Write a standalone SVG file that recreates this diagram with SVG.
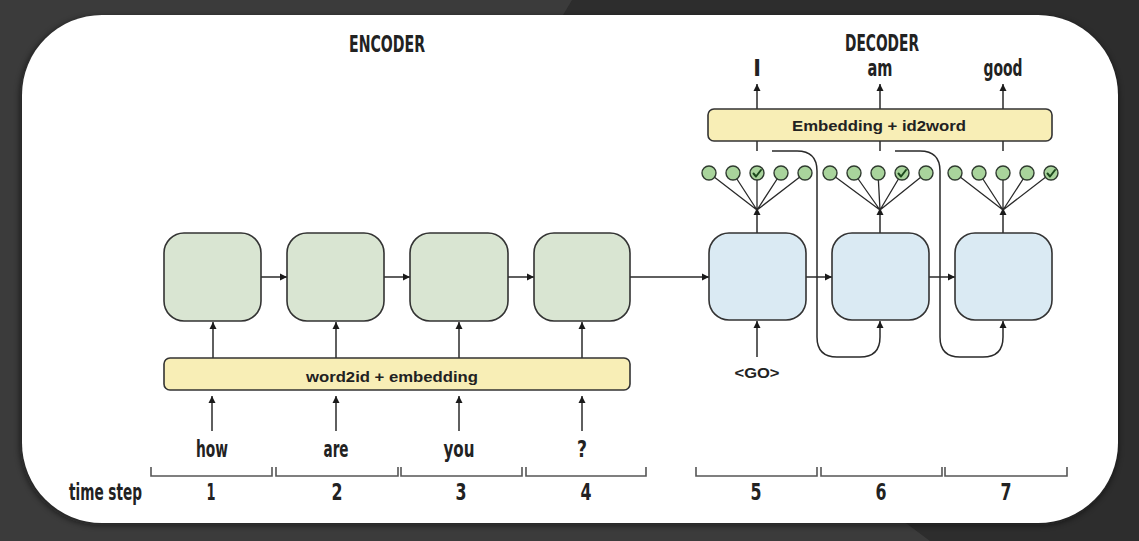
<svg xmlns="http://www.w3.org/2000/svg" width="1139" height="541" viewBox="0 0 1139 541">
<style>
.enc{fill:#d9e5d2;stroke:#333;stroke-width:1.6}
.dec{fill:#daeaf3;stroke:#333;stroke-width:1.6}
.bar{fill:#f8eeb6;stroke:#333;stroke-width:1.6}
.ln{fill:none;stroke:#2a2a2a;stroke-width:1.5}
.fan{fill:none;stroke:#2a2a2a;stroke-width:1.3}
.dot{fill:#a9d49c;stroke:#2f3a2f;stroke-width:1.4}
.chk{fill:none;stroke:#1d4a1d;stroke-width:2;stroke-linecap:round;stroke-linejoin:round}
.brk{fill:none;stroke:#555;stroke-width:1.6}
.cond{font-family:"DejaVu Sans Condensed","Liberation Sans Narrow",sans-serif;font-weight:bold;font-size:23px;fill:#222;text-anchor:middle}
.bold{font-family:"Liberation Sans",Arial,sans-serif;font-weight:bold;font-size:15px;fill:#222;text-anchor:middle}
</style>
<defs>
<marker id="ah" markerUnits="userSpaceOnUse" markerWidth="8" markerHeight="8" refX="7" refY="4" orient="auto">
<path d="M0,0.5 L7,4 L0,7.5 z" fill="#1a1a1a"/>
</marker>
<filter id="sh" x="-5%" y="-5%" width="110%" height="115%">
<feGaussianBlur stdDeviation="3"/>
</filter>
</defs>
<g id="background">
<rect width="1139" height="541" fill="#3b3b3b"/>
<polygon points="572,0 1139,0 1139,541 930,541 895,515 560,20" fill="#2d2d2d"/>
<rect x="20" y="17" width="1098" height="508" rx="80" fill="#111" opacity="0.6" filter="url(#sh)"/>
<rect x="22" y="15" width="1096" height="508" rx="80" fill="#ffffff"/>
</g>
<g id="titles">
<text class="cond" x="387" y="52" font-size="21" textLength="76" lengthAdjust="spacingAndGlyphs">ENCODER</text>
<text class="cond" x="882" y="51" font-size="20" textLength="74" lengthAdjust="spacingAndGlyphs">DECODER</text>
</g>
<g id="connectors">
<line class="ln" x1="212" y1="431" x2="212" y2="396" marker-end="url(#ah)"/>
<line class="ln" x1="336" y1="431" x2="336" y2="396" marker-end="url(#ah)"/>
<line class="ln" x1="459" y1="431" x2="459" y2="396" marker-end="url(#ah)"/>
<line class="ln" x1="582" y1="431" x2="582" y2="396" marker-end="url(#ah)"/>
<line class="ln" x1="213" y1="358" x2="213" y2="322" marker-end="url(#ah)"/>
<line class="ln" x1="336" y1="358" x2="336" y2="322" marker-end="url(#ah)"/>
<line class="ln" x1="459" y1="358" x2="459" y2="322" marker-end="url(#ah)"/>
<line class="ln" x1="582" y1="358" x2="582" y2="322" marker-end="url(#ah)"/>
<line class="ln" x1="261" y1="277" x2="287" y2="277" marker-end="url(#ah)"/>
<line class="ln" x1="384" y1="277" x2="410" y2="277" marker-end="url(#ah)"/>
<line class="ln" x1="508" y1="277" x2="534" y2="277" marker-end="url(#ah)"/>
<line class="ln" x1="630" y1="277" x2="709" y2="277" marker-end="url(#ah)"/>
<line class="ln" x1="806" y1="277" x2="832" y2="277" marker-end="url(#ah)"/>
<line class="ln" x1="929" y1="277" x2="955" y2="277" marker-end="url(#ah)"/>
<line class="ln" x1="757" y1="357" x2="757" y2="321" marker-end="url(#ah)"/>
<path class="ln" d="M772,151 H797 Q817,151 817,171 V337 Q817,357 837,357 H860 Q880,357 880,337 V321" marker-end="url(#ah)"/>
<path class="ln" d="M895,151 H920 Q940,151 940,171 V337 Q940,357 960,357 H983 Q1003,357 1003,337 V321" marker-end="url(#ah)"/>
<line class="ln" x1="757" y1="233" x2="757" y2="208" marker-end="url(#ah)"/>
<line class="ln" x1="880" y1="233" x2="880" y2="208" marker-end="url(#ah)"/>
<line class="ln" x1="1003" y1="233" x2="1003" y2="208" marker-end="url(#ah)"/>
<line class="ln" x1="757" y1="141" x2="757" y2="151"/>
<line class="ln" x1="880" y1="141" x2="880" y2="151"/>
<line class="ln" x1="1003" y1="141" x2="1003" y2="151"/>
<line class="ln" x1="757" y1="109" x2="757" y2="84" marker-end="url(#ah)"/>
<line class="ln" x1="880" y1="109" x2="880" y2="84" marker-end="url(#ah)"/>
<line class="ln" x1="1003" y1="109" x2="1003" y2="84" marker-end="url(#ah)"/>
</g>
<g id="fan1">
<path class="fan" d="M757,210 L709,173 M757,210 L733,173 M757,210 L757,173 M757,210 L781,173 M757,210 L805,173"/>
<circle class="dot" cx="709" cy="173" r="7"/>
<circle class="dot" cx="733" cy="173" r="7"/>
<circle class="dot" cx="757" cy="173" r="7"/>
<circle class="dot" cx="781" cy="173" r="7"/>
<circle class="dot" cx="805" cy="173" r="7"/>
<path class="chk" d="M753.5,173.5 L756,176.5 L761,170"/>
</g>
<g id="fan2">
<path class="fan" d="M880,210 L830,173 M880,210 L854,173 M880,210 L878,173 M880,210 L902,173 M880,210 L926,173"/>
<circle class="dot" cx="830" cy="173" r="7"/>
<circle class="dot" cx="854" cy="173" r="7"/>
<circle class="dot" cx="878" cy="173" r="7"/>
<circle class="dot" cx="902" cy="173" r="7"/>
<circle class="dot" cx="926" cy="173" r="7"/>
<path class="chk" d="M898.5,173.5 L901,176.5 L906,170"/>
</g>
<g id="fan3">
<path class="fan" d="M1003,210 L955,173 M1003,210 L979,173 M1003,210 L1003,173 M1003,210 L1027,173 M1003,210 L1051,173"/>
<circle class="dot" cx="955" cy="173" r="7"/>
<circle class="dot" cx="979" cy="173" r="7"/>
<circle class="dot" cx="1003" cy="173" r="7"/>
<circle class="dot" cx="1027" cy="173" r="7"/>
<circle class="dot" cx="1051" cy="173" r="7"/>
<path class="chk" d="M1047.5,173.5 L1050,176.5 L1055,170"/>
</g>
<g id="enc1"><rect class="enc" x="164" y="233" width="97" height="88" rx="20"/></g>
<g id="enc2"><rect class="enc" x="287" y="233" width="97" height="88" rx="20"/></g>
<g id="enc3"><rect class="enc" x="410" y="233" width="98" height="88" rx="20"/></g>
<g id="enc4"><rect class="enc" x="534" y="233" width="96" height="88" rx="20"/></g>
<g id="dec5"><rect class="dec" x="709" y="233" width="97" height="87" rx="20"/></g>
<g id="dec6"><rect class="dec" x="832" y="233" width="97" height="87" rx="20"/></g>
<g id="dec7"><rect class="dec" x="955" y="233" width="97" height="87" rx="20"/></g>
<g id="word2id">
<rect class="bar" x="164" y="358" width="466" height="32" rx="6"/>
<text class="bold" x="392" y="382" font-size="16" textLength="172" lengthAdjust="spacingAndGlyphs">word2id + embedding</text>
</g>
<g id="id2word">
<rect class="bar" x="708" y="109" width="344" height="32" rx="6"/>
<text class="bold" x="879" y="131" font-size="16" textLength="174" lengthAdjust="spacingAndGlyphs">Embedding + id2word</text>
</g>
<g id="go"><text class="bold" x="757" y="378" textLength="45" lengthAdjust="spacingAndGlyphs">&lt;GO&gt;</text></g>
<g id="inputs">
<text class="cond" x="212" y="457" textLength="32" lengthAdjust="spacingAndGlyphs">how</text>
<text class="cond" x="336" y="457" textLength="25" lengthAdjust="spacingAndGlyphs">are</text>
<text class="cond" x="459" y="457" textLength="31" lengthAdjust="spacingAndGlyphs">you</text>
<text class="cond" x="582" y="457" textLength="10" lengthAdjust="spacingAndGlyphs">?</text>
</g>
<g id="outputs">
<text class="cond" x="757" y="76" font-size="21">I</text>
<text class="cond" x="880" y="76" font-size="21" textLength="25" lengthAdjust="spacingAndGlyphs">am</text>
<text class="cond" x="1003" y="76" font-size="21" textLength="39" lengthAdjust="spacingAndGlyphs">good</text>
</g>
<g id="timesteps">
<path class="brk" d="M151,467 V476 H272 V467 M276,467 V476 H398 V467 M401,467 V476 H522 V467 M526,467 V476 H646 V467 M696,467 V476 H817 V467 M821,467 V476 H942 V467 M945,467 V476 H1067 V467"/>
<text class="cond" x="105.5" y="500" textLength="73" lengthAdjust="spacingAndGlyphs">time step</text>
<text class="cond" x="211" y="500" textLength="9" lengthAdjust="spacingAndGlyphs">1</text>
<text class="cond" x="337" y="500" textLength="11" lengthAdjust="spacingAndGlyphs">2</text>
<text class="cond" x="461" y="500" textLength="11" lengthAdjust="spacingAndGlyphs">3</text>
<text class="cond" x="586" y="500" textLength="11" lengthAdjust="spacingAndGlyphs">4</text>
<text class="cond" x="756" y="500" textLength="11" lengthAdjust="spacingAndGlyphs">5</text>
<text class="cond" x="881" y="500" textLength="11" lengthAdjust="spacingAndGlyphs">6</text>
<text class="cond" x="1006" y="500" textLength="11" lengthAdjust="spacingAndGlyphs">7</text>
</g>
</svg>
